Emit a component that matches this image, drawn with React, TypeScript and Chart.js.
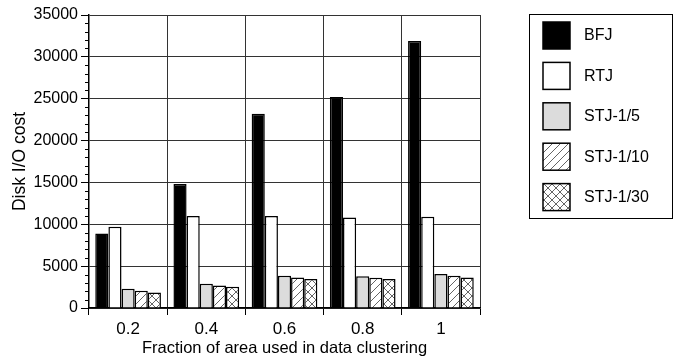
import React, { useEffect, useRef } from "react";
import { Chart, registerables } from "chart.js";

Chart.register(...registerables);

const categories = ["0.2", "0.4", "0.6", "0.8", "1"];
const seriesNames = ["BFJ", "RTJ", "STJ-1/5", "STJ-1/10", "STJ-1/30"];
const bfj = [8900, 14800, 23200, 25200, 31900];
const rtj = [9700, 11000, 11000, 10800, 10900];
const stj5 = [2300, 2900, 3850, 3800, 4050];
const stj10 = [2050, 2700, 3650, 3600, 3850];
const stj30 = [1850, 2550, 3450, 3450, 3650];
const yMax = 35000;
const yMajorStep = 5000;
const yMinorStep = 1000;

const FONT = "'Liberation Sans', Arial, Helvetica, sans-serif";

function makePattern(kind: "diag" | "cross"): CanvasPattern | string {
  const s = 8;
  const c = document.createElement("canvas");
  c.width = s;
  c.height = s;
  const g = c.getContext("2d");
  if (!g) return "#fff";
  g.fillStyle = "#fff";
  g.fillRect(0, 0, s, s);
  g.strokeStyle = "#222";
  g.lineWidth = 0.7;
  g.beginPath();
  g.moveTo(-1, s + 1);
  g.lineTo(s + 1, -1);
  g.moveTo(-1, 1);
  g.lineTo(1, -1);
  g.moveTo(s - 1, s + 1);
  g.lineTo(s + 1, s - 1);
  if (kind === "cross") {
    g.moveTo(-1, -1);
    g.lineTo(s + 1, s + 1);
    g.moveTo(s - 1, -1);
    g.lineTo(s + 1, 1);
    g.moveTo(-1, s - 1);
    g.lineTo(1, s + 1);
  }
  g.stroke();
  const p = g.createPattern(c, "repeat");
  return p || "#fff";
}

export default function App() {
  const ref = useRef<HTMLCanvasElement>(null);
  useEffect(() => {
    document.body.style.margin = "0";
    const canvas = ref.current;
    if (!canvas) return;
    const diag = makePattern("diag");
    const cross = makePattern("cross");
    const fills: any[] = ["#000", "#fff", "#dcdcdc", diag, cross];
    const values = [bfj, rtj, stj5, stj10, stj30];

    const minorTicks = {
      id: "minorTicks",
      afterDraw(chart: any) {
        const ctx = chart.ctx;
        const y = chart.scales.y;
        const left = chart.chartArea.left;
        ctx.save();
        ctx.strokeStyle = "#000";
        ctx.lineWidth = 1;
        for (let v = 0; v <= yMax; v += yMinorStep) {
          if (v % yMajorStep === 0) continue;
          const py = Math.round(y.getPixelForValue(v)) + 0.5;
          ctx.beginPath();
          ctx.moveTo(left - 4, py);
          ctx.lineTo(left, py);
          ctx.stroke();
        }
        ctx.restore();
      },
    };

    const legendBox = {
      id: "legendBox",
      afterDraw(chart: any) {
        const ctx = chart.ctx;
        ctx.save();
        const bx = 529.5, by = 14.5, bw = 143, bh = 204;
        ctx.fillStyle = "#fff";
        ctx.fillRect(bx, by, bw, bh);
        ctx.strokeStyle = "#000";
        ctx.lineWidth = 1;
        ctx.strokeRect(bx, by, bw, bh);
        chart.data.datasets.forEach((ds: any, i: number) => {
          const sx = 543, sy = 22 + i * 40.4, sw = 27, sh = 27;
          ctx.fillStyle = ds.backgroundColor;
          ctx.fillRect(sx, sy, sw, sh);
          ctx.lineWidth = 1.5;
          ctx.strokeStyle = "#000";
          ctx.strokeRect(sx, sy, sw, sh);
          ctx.fillStyle = "#000";
          ctx.font = `16px ${FONT}`;
          ctx.textBaseline = "middle";
          ctx.textAlign = "left";
          ctx.fillText(ds.label, 584, sy + sh / 2 + 0.5);
        });
        ctx.restore();
      },
    };

    const chart = new Chart(canvas, {
      type: "bar",
      data: {
        labels: categories,
        datasets: seriesNames.map((name, i) => ({
          label: name,
          data: values[i],
          backgroundColor: fills[i],
          borderColor: "#000",
          borderWidth: 1.5,
          categoryPercentage: 0.84,
          barPercentage: 1,
        })),
      },
      options: {
        animation: false,
        responsive: false,
        devicePixelRatio: 1,
        layout: { padding: { top: 15, right: 199, bottom: 0, left: 0 } },
        plugins: {
          legend: { display: false },
          tooltip: { enabled: false },
        },
        scales: {
          x: {
            offset: true,
            grid: {
              offset: true,
              color: "#333",
              lineWidth: 1,
              tickLength: 7,
              tickColor: "#000",
            },
            border: { color: "#000", width: 1.5 },
            ticks: {
              color: "#000",
              font: { family: FONT, size: 17 },
              padding: 4,
            },
            title: {
              display: true,
              text: "Fraction of area used in data clustering",
              color: "#000",
              font: { family: FONT, size: 16.5 },
              padding: { top: 0, bottom: 0 },
            },
            afterFit(scale: any) {
              scale.height = 50;
            },
          },
          y: {
            min: 0,
            max: yMax,
            ticks: {
              stepSize: yMajorStep,
              color: "#000",
              font: { family: FONT, size: 16 },
              padding: 3,
              callback: (v: any) => String(v),
            },
            grid: {
              color: "#333",
              lineWidth: 1,
              tickLength: 8,
              tickColor: "#000",
            },
            border: { color: "#000", width: 1.5 },
            title: {
              display: true,
              text: "Disk I/O cost",
              color: "#000",
              font: { family: FONT, size: 17.5 },
              padding: { top: 10, bottom: 0 },
            },
            afterFit(scale: any) {
              scale.width = 89;
            },
          },
        },
      },
      plugins: [minorTicks, legendBox],
    } as any);
    return () => chart.destroy();
  }, []);
  return <canvas ref={ref} width={679} height={358} style={{ display: "block" }} />;
}
